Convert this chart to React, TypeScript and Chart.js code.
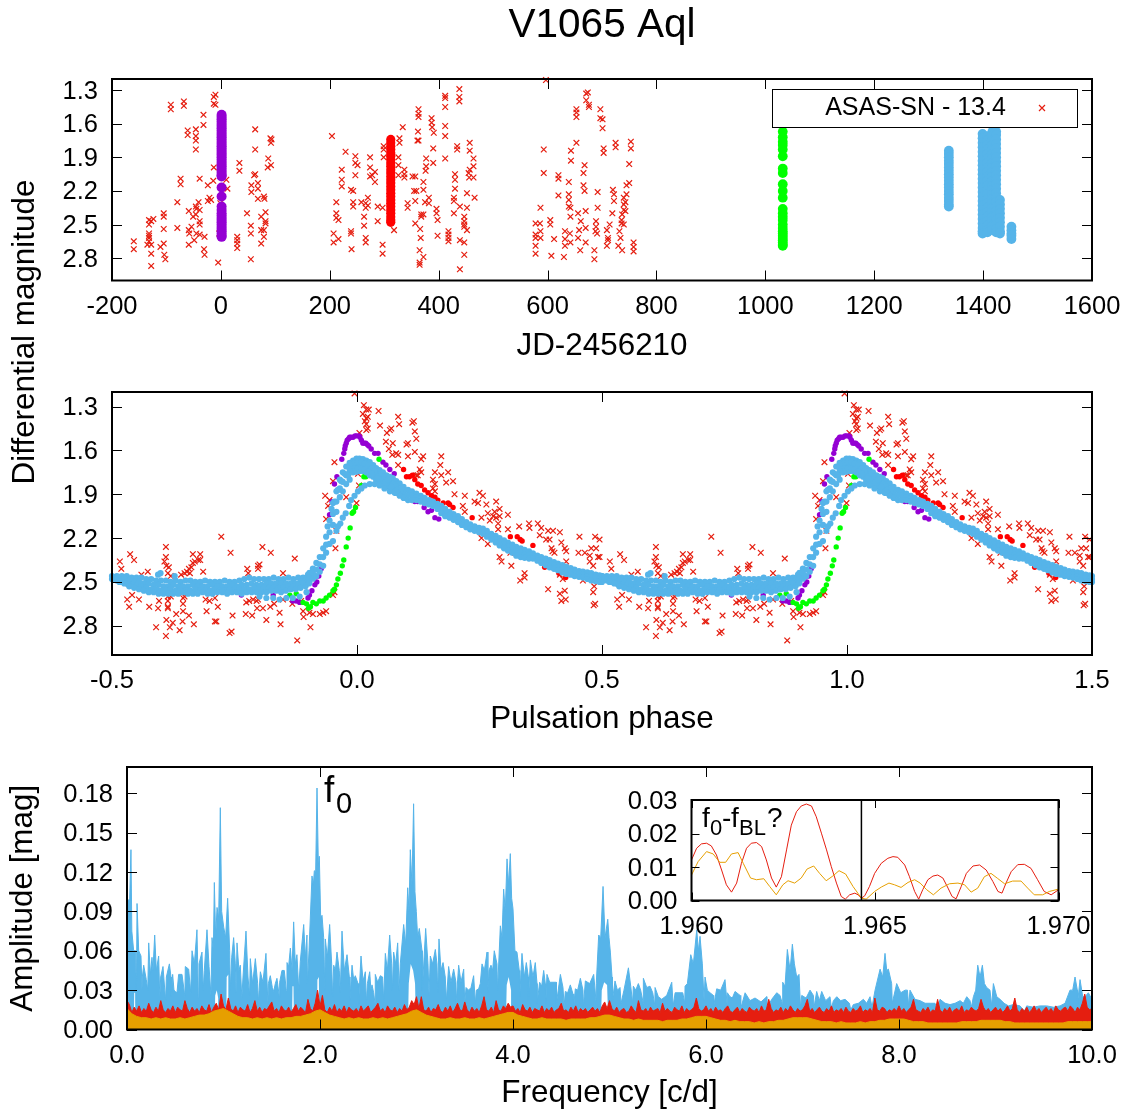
import React, { useEffect, useRef } from "react";
import { Chart, registerables } from "chart.js";

Chart.register(...registerables);

const TITLE = "V1065 Aql";
const FONT = "'Liberation Sans', Arial, sans-serif";

const jdTicks = [-200, 0, 200, 400, 600, 800, 1000, 1200, 1400, 1600];
const magTicks = [1.3, 1.6, 1.9, 2.2, 2.5, 2.8];
const phaseTicks = [-0.5, 0, 0.5, 1, 1.5];
const freqTicks = [0, 2, 4, 6, 8, 10];
const ampTicks = [0, 0.03, 0.06, 0.09, 0.12, 0.15, 0.18];
const insetFreqTicks = [1.96, 1.965, 1.97];
const insetAmpTicks = [0, 0.01, 0.02, 0.03];
const F0_MINUS_FBL = 1.96463;

// ASAS-SN light curve: [JD-2456210, magnitude]
const asasSeason1: number[][] = [[-160,2.65],[-160,2.72],[-132,2.46],[-124,2.45],[-128,2.47],[-132,2.5],[-132,2.58],[-132,2.6],[-132,2.62],[-132,2.65],[-128,2.68],[-135,2.68],[-128,2.76],[-128,2.87],[-105,2.4],[-105,2.43],[-105,2.54],[-105,2.67],[-111,2.7],[-104,2.77],[-102,2.81],[-80,2.3],[-80,2.53],[-92,1.43],[-92,1.47],[-68,1.4],[-68,1.44],[-61,1.66],[-61,1.7],[-46,1.65],[-46,1.71],[-46,1.75],[-46,1.83],[-32,1.52],[-32,1.61],[-13,1.36],[-10,1.34],[-13,1.42],[-10,1.43],[-74,2.09],[-74,2.14],[-39,2.09],[-24,2.15],[-13,1.99],[-14,2.11],[10,2.1],[12,2.18],[-41,2.3],[-21,2.26],[-24,2.29],[-18,2.28],[-46,2.34],[-45,2.36],[-39,2.37],[-59,2.38],[-51,2.43],[-46,2.41],[-39,2.47],[-39,2.5],[-54,2.52],[-59,2.55],[-58,2.58],[-45,2.58],[-30,2.61],[-39,2.59],[-49,2.64],[-59,2.68],[-31,2.72],[-30,2.77],[-5,2.84],[-3,2.58],[-1,2.31],[30,2.61],[30,2.64],[30,2.67],[30,2.71],[34,1.95],[34,2.02],[63,1.65],[63,1.83],[63,2.05],[61,2.06],[56,2.15],[68,2.13],[68,2.18],[56,2.21],[68,2.27],[79,2.25],[80,2.27],[48,2.4],[82,2.39],[74,2.43],[82,2.47],[82,2.49],[55,2.51],[55,2.58],[74,2.55],[79,2.55],[79,2.61],[74,2.67],[55,2.81],[91,1.73],[93,1.74],[92,1.77],[87,1.91],[86,1.99],[92,1.97]];
const asasSeason2: number[][] = [[204,1.71],[229,1.85],[247,1.89],[247,1.95],[251,1.97],[247,2.06],[274,1.9],[222,2.01],[222,2.1],[222,2.16],[239,2.19],[243,2.2],[274,1.99],[283,2.03],[278,2.06],[274,2.07],[283,2.12],[212,2.3],[243,2.3],[243,2.34],[258,2.3],[266,2.31],[266,2.35],[270,2.26],[270,2.33],[212,2.4],[212,2.44],[216,2.46],[263,2.43],[263,2.51],[288,2.34],[297,2.35],[288,2.47],[207,2.58],[207,2.66],[216,2.63],[239,2.56],[239,2.58],[266,2.62],[266,2.66],[240,2.72],[297,2.68],[297,2.76],[318,2.55],[328,1.73],[328,1.77],[326,1.9],[326,1.97],[326,2.06],[299,1.8],[299,1.83],[299,1.9],[334,1.63],[337,2.01],[337,2.05],[337,2.08],[352,2.07],[357,2.07],[355,2.2],[359,2.2],[357,2.29],[343,2.31],[343,2.35],[368,2.41],[372,2.41],[368,2.43],[357,2.49],[366,2.54],[367,2.62],[365,2.73],[372,2.79],[365,2.84],[365,2.86],[363,1.47],[363,1.51],[363,1.54],[362,1.67],[361,1.75],[363,1.75],[387,1.55],[387,1.59],[388,1.63],[391,1.68],[390,1.82],[377,1.91],[390,1.95],[377,1.98],[376,2.02],[372,2.12],[372,2.19],[382,2.26],[382,2.31],[375,2.3],[396,2.36],[396,2.4],[398,2.46],[412,1.35],[412,1.37],[412,1.45],[412,1.62],[412,1.71],[412,1.91],[438,1.29],[438,1.36],[438,1.4],[434,1.8],[434,1.83],[457,1.77],[457,1.84],[464,1.91],[464,1.98],[457,2.01],[455,2.04],[456,2.08],[464,2.08],[430,2.05],[430,2.1],[430,2.18],[428,2.26],[428,2.29],[452,2.22],[466,2.26],[439,2.34],[452,2.35],[428,2.4],[447,2.43],[447,2.47],[447,2.5],[447,2.52],[452,2.55],[398,2.6],[418,2.56],[418,2.59],[418,2.62],[418,2.65],[439,2.64],[447,2.66],[447,2.77],[439,2.9]];
const asasSeason3: number[][] = [[597,1.21],[593,1.83],[593,2.04],[587,2.35],[578,2.49],[586,2.49],[578,2.59],[587,2.56],[578,2.62],[587,2.62],[578,2.69],[578,2.76],[605,2.46],[605,2.5],[607,2.78],[620,2.06],[620,2.09],[620,2.24],[612,2.63],[632,2.56],[632,2.63],[632,2.69],[630,2.79],[639,2.12],[643,1.84],[643,1.93],[653,1.77],[639,2.23],[639,2.28],[639,2.34],[642,2.35],[642,2.43],[656,2.4],[658,2.55],[656,2.62],[660,2.73],[641,2.58],[642,2.66],[653,1.47],[653,1.5],[653,1.54],[666,2.04],[668,1.97],[666,2.15],[668,2.2],[661,2.47],[670,2.38],[670,2.53],[670,2.66],[671,1.33],[674,1.32],[671,1.39],[676,1.43],[676,1.45],[697,1.47],[697,1.55],[701,1.56],[701,1.64],[703,1.82],[703,1.86],[692,2.21],[692,2.35],[686,2.81],[686,2.73],[689,2.47],[689,2.52],[688,2.56],[691,2.58],[720,2.19],[722,2.23],[722,2.29],[725,1.77],[725,1.81],[753,1.76],[753,1.82],[750,1.96],[750,2.13],[745,2.15],[745,2.23],[743,2.3],[740,2.26],[740,2.32],[740,2.37],[743,2.38],[737,2.41],[736,2.46],[736,2.49],[740,2.5],[719,2.4],[714,2.5],[709,2.55],[711,2.62],[711,2.64],[709,2.69],[732,2.56],[734,2.62],[730,2.69],[737,2.73],[758,2.66],[758,2.7],[758,2.74]];

// Nightly ground-based runs: JD of the run, magnitudes
const purpleRunJd = 1.3;
const purpleRunMags = [1.52,1.54,1.56,1.58,1.6,1.62,1.64,1.66,1.68,1.7,1.72,1.74,1.76,1.78,1.8,1.82,1.84,1.86,1.88,1.9,1.92,1.94,1.96,1.98,2.0,2.02,2.04,2.06,2.07,2.17,2.25,2.34,2.37,2.4,2.42,2.44,2.46,2.48,2.5,2.52,2.54,2.56,2.58,2.6,2.61];
const redRunJd = 312;
const redRunMags = [1.74,1.77,1.8,1.83,1.86,1.89,1.92,1.95,1.98,2.01,2.04,2.07,2.1,2.13,2.16,2.19,2.22,2.25,2.28,2.31,2.34,2.37,2.4,2.43,2.46,2.48];
const greenRunJd = 1032;
const greenRunMags = [1.67,1.72,1.76,1.79,1.83,1.89,2.0,2.04,2.14,2.2,2.26,2.36,2.4,2.43,2.46,2.5,2.53,2.56,2.58,2.6,2.62,2.64,2.66,2.68,2.69];
const blueRunA = { jd: 1337, mags: [1.84,1.87,1.9,1.93,1.96,1.99,2.02,2.05,2.08,2.11,2.14,2.17,2.2,2.23,2.26,2.29,2.32,2.34] };
const blueRunB = { jd: 1399, mags: [1.69,1.73,1.77,1.81,1.85,1.89,1.93,1.97,2.01,2.05,2.09,2.13,2.17,2.21,2.25,2.29,2.33,2.37,2.41,2.45,2.49,2.53,2.56,2.58] };
const blueRunC = { jd: 1408, mags: [1.71,1.75,1.79,1.83,1.87,1.91,1.95,1.99,2.03,2.07,2.11,2.15,2.19,2.23,2.27,2.31,2.35,2.39,2.43,2.47,2.51,2.55,2.57] };
const blueRunD = { jd: 1417, mags: [1.67,1.71,1.75,1.79,1.83,1.87,1.91,1.95,1.99,2.03,2.07,2.11,2.15,2.19,2.23,2.27,2.31,2.35,2.39,2.43,2.47,2.51,2.55] };
const blueRunE = { jd: 1424, mags: [1.67,1.7,1.74,1.78,1.82,1.86,1.9,1.94,1.98,2.02,2.06,2.1,2.14,2.18,2.22,2.26,2.3,2.34,2.38,2.42,2.46,2.5,2.54,2.57] };
const blueRunF = { jd: 1431, mags: [2.28,2.32,2.36,2.4,2.44,2.48,2.52,2.56,2.58] };
const blueRunG = { jd: 1452, mags: [2.52,2.55,2.58,2.6,2.63] };

// Folded light curve, one cycle from -0.5 to 0.5: [phase, magnitude]
const asasFolded: number[][] = [[-0.484,2.36],[-0.481,2.41],[-0.463,2.31],[-0.455,2.35],[-0.44,2.45],[-0.427,2.43],[-0.469,2.62],[-0.459,2.59],[-0.465,2.67],[-0.445,2.62],[-0.424,2.67],[-0.41,2.81],[-0.406,2.68],[-0.404,2.63],[-0.39,2.26],[-0.39,2.33],[-0.393,2.36],[-0.389,2.39],[-0.384,2.4],[-0.386,2.44],[-0.38,2.46],[-0.386,2.6],[-0.38,2.6],[-0.386,2.63],[-0.386,2.67],[-0.386,2.68],[-0.389,2.76],[-0.376,2.78],[-0.382,2.81],[-0.369,2.72],[-0.39,2.87],[-0.356,2.77],[-0.362,2.83],[-0.333,2.79],[-0.355,2.7],[-0.355,2.65],[-0.355,2.61],[-0.352,2.6],[-0.343,2.73],[-0.359,2.45],[-0.347,2.43],[-0.343,2.41],[-0.338,2.4],[-0.335,2.37],[-0.331,2.36],[-0.324,2.35],[-0.32,2.35],[-0.335,2.31],[-0.32,2.31],[-0.314,2.43],[-0.341,2.44],[-0.352,2.44],[-0.309,2.62],[-0.301,2.63],[-0.29,2.61],[-0.307,2.7],[-0.284,2.67],[-0.29,2.77],[-0.287,2.77],[-0.277,2.19],[-0.258,2.3],[-0.256,2.84],[-0.26,2.85],[-0.254,2.73],[-0.224,2.41],[-0.222,2.44],[-0.202,2.39],[-0.199,2.38],[-0.202,2.41],[-0.193,2.26],[-0.176,2.3],[-0.151,2.44],[-0.127,2.34],[-0.226,2.64],[-0.22,2.63],[-0.212,2.62],[-0.205,2.63],[-0.202,2.62],[-0.227,2.72],[-0.214,2.73],[-0.204,2.68],[-0.192,2.68],[-0.185,2.76],[-0.177,2.67],[-0.169,2.65],[-0.158,2.71],[-0.156,2.79],[-0.151,2.62],[-0.132,2.65],[-0.122,2.9],[-0.11,2.7],[-0.109,2.74],[-0.097,2.71],[-0.095,2.81],[-0.114,2.63],[-0.076,2.72],[-0.069,2.71],[-0.063,2.7],[-0.09,2.72],[-0.049,2.59],[-0.046,2.57],[-0.044,2.27],[-0.046,1.68],[-0.049,1.81],[-0.065,1.91],[-0.059,1.98],[-0.056,1.94],[-0.063,2.07],[-0.042,2.15],[-0.022,1.92],[0.002,1.76],[-0.001,1.96],[0.005,1.48],[0.004,1.84],[-0.005,1.21],[0.014,1.29],[0.012,1.35],[0.019,1.32],[0.024,1.32],[0.022,1.37],[0.019,1.38],[0.016,1.4],[0.019,1.42],[0.022,1.45],[0.019,1.46],[0.044,1.33],[0.047,1.43],[0.084,1.37],[0.086,1.42],[0.113,1.41],[0.116,1.4],[0.118,1.47],[0.067,1.46],[0.061,1.48],[0.07,1.45],[0.059,1.54],[0.073,1.55],[0.065,1.59],[0.072,1.63],[0.08,1.62],[0.084,1.63],[0.104,1.55],[0.101,1.56],[0.121,1.52],[0.118,1.61],[0.104,1.64],[0.084,1.7],[0.135,1.64],[0.131,1.66],[0.128,1.73],[0.131,1.75],[0.124,1.77],[0.121,1.77],[0.172,1.64],[0.17,1.7],[0.159,1.75],[0.155,1.8],[0.159,1.83],[0.182,1.82],[0.172,1.77],[0.186,1.75],[0.196,1.81],[0.155,1.86],[0.159,1.88],[0.199,1.9],[0.22,1.91],[0.216,1.98],[0.22,2.02],[0.24,1.95],[0.247,1.96],[0.25,1.89],[0.257,1.91],[0.254,2.06],[0.264,1.97],[0.267,2.03],[0.284,1.95],[0.291,2.0],[0.281,2.02],[0.278,2.05],[0.284,2.06],[0.291,2.05],[0.288,2.1],[0.271,2.08],[0.308,2.04],[0.308,2.14],[0.288,2.14],[0.254,2.2],[0.267,2.24],[0.291,2.33],[0.295,2.36],[0.315,2.39],[0.313,2.3],[0.331,2.12],[0.351,2.1],[0.352,2.13],[0.369,2.1],[0.376,2.13],[0.373,2.18],[0.39,2.15],[0.4,2.15],[0.414,2.16],[0.386,2.21],[0.393,2.21],[0.417,2.23],[0.397,2.27],[0.399,2.29],[0.424,2.27],[0.427,2.29],[0.403,2.3],[0.427,2.36],[0.454,2.19],[0.486,2.19],[0.495,2.21],[0.478,2.27],[0.488,2.27],[0.452,2.3],[0.465,2.3],[0.475,2.32],[0.492,2.33],[0.475,2.36],[0.482,2.39],[0.342,2.44],[0.342,2.47],[0.333,2.49],[0.39,2.55],[0.414,2.58],[0.424,2.56],[0.417,2.63],[0.426,2.62],[0.403,2.4],[0.414,2.45],[0.42,2.48],[0.461,2.49],[0.484,2.53],[0.482,2.57],[0.486,2.65],[0.483,2.66],[0.495,2.33]];
const purpleFolded: number[][] = [[-0.236,2.59],[-0.171,2.59],[-0.144,2.61],[-0.131,2.63],[-0.124,2.63],[-0.117,2.64],[-0.1,2.61],[-0.097,2.59],[-0.092,2.56],[-0.086,2.52],[-0.082,2.5],[-0.078,2.46],[-0.073,2.41],[-0.056,2.04],[-0.051,1.95],[-0.046,1.83],[-0.041,1.78],[-0.031,1.66],[-0.027,1.62],[-0.025,1.59],[-0.024,1.57],[-0.022,1.55],[-0.02,1.53],[-0.017,1.52],[-0.015,1.51],[-0.012,1.51],[-0.008,1.51],[-0.004,1.5],[-0.001,1.5],[0.004,1.5],[0.006,1.51],[0.009,1.53],[0.012,1.55],[0.015,1.55],[0.018,1.55],[0.021,1.56],[0.024,1.57],[0.029,1.59],[0.036,1.62],[0.043,1.62],[0.053,1.68],[0.059,1.7],[0.067,1.73],[0.076,1.76],[0.118,1.95],[0.124,1.95],[0.137,1.99],[0.145,2.02],[0.152,2.01],[0.159,2.06],[0.167,2.07]];
const redFolded: number[][] = [[0.095,1.73],[0.101,1.78],[0.107,1.78],[0.113,1.77],[0.118,1.8],[0.124,1.83],[0.131,1.84],[0.138,1.87],[0.145,1.89],[0.152,1.91],[0.159,1.92],[0.165,1.94],[0.176,1.96],[0.186,1.96],[0.189,1.97],[0.196,1.99],[0.235,2.06],[0.313,2.19],[0.327,2.19],[0.333,2.21],[0.337,2.22],[0.359,2.25],[0.383,2.4],[0.412,2.44],[0.415,2.43],[0.426,2.47],[0.442,2.45]];
const greenFolded: number[][] = [[-0.137,2.59],[-0.124,2.58],[-0.11,2.64],[-0.103,2.65],[-0.099,2.68],[-0.095,2.67],[-0.09,2.64],[-0.083,2.65],[-0.076,2.63],[-0.069,2.63],[-0.063,2.61],[-0.056,2.59],[-0.049,2.56],[-0.046,2.55],[-0.042,2.52],[-0.039,2.48],[-0.034,2.44],[-0.03,2.39],[-0.027,2.35],[-0.022,2.26],[-0.018,2.2],[-0.014,2.13],[-0.01,2.03],[-0.007,2.02],[-0.003,1.99],[0.009,1.84],[0.014,1.78],[0.018,1.78],[0.027,1.7],[0.045,1.66]];

// Blue folded curve: flat part of the cycle, four rows through the band
const blueFlatPhaseA = [-0.5,-0.49,-0.48,-0.47,-0.46,-0.45,-0.44,-0.43,-0.42,-0.41,-0.4,-0.39,-0.38,-0.37,-0.36,-0.35,-0.34,-0.33,-0.32,-0.31,-0.3,-0.29,-0.28,-0.27,-0.26,-0.25,-0.24,-0.23,-0.22,-0.21,-0.2,-0.19,-0.18,-0.17,-0.16,-0.15,-0.14,-0.13,-0.12,-0.11,-0.1];
const blueFlatPhaseB = [-0.495,-0.485,-0.475,-0.465,-0.455,-0.445,-0.435,-0.425,-0.415,-0.405,-0.395,-0.385,-0.375,-0.365,-0.355,-0.345,-0.335,-0.325,-0.315,-0.305,-0.295,-0.285,-0.275,-0.265,-0.255,-0.245,-0.235,-0.225,-0.215,-0.205,-0.195,-0.185,-0.175,-0.165,-0.155,-0.145,-0.135,-0.125,-0.115,-0.105,-0.098];
const blueFlatTop = [2.46,2.46,2.46,2.46,2.47,2.47,2.47,2.48,2.48,2.49,2.49,2.49,2.5,2.49,2.5,2.49,2.49,2.5,2.5,2.49,2.5,2.5,2.5,2.49,2.5,2.5,2.49,2.48,2.47,2.48,2.48,2.48,2.48,2.47,2.48,2.48,2.47,2.48,2.47,2.47,2.45];
const blueFlatUpper = [2.47,2.48,2.48,2.49,2.5,2.5,2.51,2.51,2.52,2.52,2.53,2.53,2.52,2.53,2.53,2.53,2.52,2.53,2.53,2.53,2.52,2.53,2.53,2.53,2.52,2.53,2.52,2.52,2.51,2.52,2.52,2.51,2.51,2.51,2.51,2.51,2.51,2.51,2.5,2.49,2.47];
const blueFlatLower = [2.48,2.49,2.5,2.51,2.52,2.53,2.53,2.54,2.55,2.55,2.56,2.56,2.55,2.56,2.56,2.56,2.56,2.55,2.56,2.56,2.56,2.55,2.56,2.56,2.55,2.55,2.55,2.55,2.55,2.54,2.55,2.54,2.54,2.54,2.54,2.54,2.53,2.53,2.52,2.51,2.49];
const blueFlatBottom = [2.48,2.5,2.51,2.53,2.54,2.55,2.56,2.57,2.57,2.58,2.58,2.58,2.58,2.58,2.57,2.58,2.58,2.58,2.57,2.58,2.58,2.57,2.57,2.58,2.57,2.57,2.58,2.57,2.57,2.57,2.57,2.57,2.56,2.56,2.57,2.56,2.55,2.55,2.54,2.53,2.51];
// Blue folded curve, rise and decline: [phase, top, middle, bottom]
const blueFallRows: number[][] = [[-0.097,2.437,2.47,2.506],[-0.09,2.408,2.44,2.478],[-0.083,2.37,2.415,2.46],[-0.076,2.33,2.38,2.43],[-0.069,2.27,2.33,2.39],[-0.063,2.19,2.245,2.3],[-0.056,2.08,2.16,2.24],[-0.049,1.96,2.035,2.11],[-0.042,1.88,1.95,2.02],[-0.035,1.8,1.86,1.92],[-0.029,1.75,1.815,1.88],[-0.022,1.71,1.77,1.83],[-0.015,1.685,1.74,1.8],[-0.008,1.67,1.71,1.75],[-0.001,1.655,1.7,1.745],[0.005,1.655,1.7,1.74],[0.012,1.66,1.7,1.74],[0.019,1.67,1.71,1.75],[0.026,1.68,1.725,1.77],[0.033,1.7,1.74,1.78],[0.039,1.72,1.76,1.8],[0.046,1.735,1.77,1.81],[0.053,1.75,1.79,1.825],[0.06,1.77,1.805,1.84],[0.067,1.78,1.82,1.855],[0.073,1.79,1.83,1.87],[0.08,1.81,1.85,1.89],[0.087,1.825,1.87,1.91],[0.095,1.85,1.89,1.925],[0.104,1.87,1.905,1.94],[0.112,1.88,1.91,1.94],[0.121,1.895,1.92,1.94],[0.13,1.91,1.93,1.95],[0.138,1.925,1.94,1.96],[0.147,1.94,1.955,1.97],[0.155,1.95,1.965,1.98],[0.164,1.965,1.98,2.0],[0.172,1.98,2.005,2.03],[0.18,2.0,2.025,2.05],[0.189,2.02,2.04,2.06],[0.197,2.035,2.055,2.075],[0.206,2.05,2.07,2.09],[0.214,2.07,2.09,2.11],[0.223,2.09,2.11,2.125],[0.231,2.105,2.12,2.14],[0.24,2.12,2.135,2.15],[0.249,2.13,2.145,2.16],[0.257,2.135,2.15,2.17],[0.265,2.15,2.17,2.19],[0.274,2.17,2.19,2.21],[0.283,2.185,2.21,2.23],[0.291,2.2,2.225,2.25],[0.3,2.215,2.24,2.27],[0.308,2.23,2.26,2.285],[0.317,2.245,2.27,2.3],[0.325,2.26,2.29,2.32],[0.334,2.27,2.3,2.33],[0.342,2.28,2.31,2.335],[0.351,2.29,2.315,2.34],[0.359,2.305,2.32,2.34],[0.368,2.32,2.34,2.355],[0.376,2.33,2.35,2.37],[0.385,2.34,2.36,2.385],[0.393,2.35,2.375,2.4],[0.402,2.365,2.39,2.41],[0.41,2.375,2.4,2.42],[0.419,2.385,2.41,2.435],[0.427,2.395,2.42,2.445],[0.436,2.405,2.43,2.45],[0.444,2.415,2.44,2.46],[0.453,2.425,2.445,2.465],[0.461,2.43,2.45,2.47],[0.47,2.435,2.46,2.48],[0.478,2.44,2.465,2.49],[0.487,2.45,2.47,2.495],[0.495,2.455,2.48,2.5],[0.5,2.46,2.48,2.5]];
// Blue folded curve, separate strands: lower hump, spurs and filler in the peak
const blueStrands: number[][] = [[-0.049,2.22],[-0.042,2.15],[-0.039,2.12],[-0.034,2.1],[-0.029,2.06],[-0.023,2.03],[-0.016,1.98],[-0.012,1.94],[-0.005,1.91],[0.002,1.88],[0.009,1.86],[0.016,1.84],[0.026,1.83],[0.036,1.83],[0.046,1.84],[0.056,1.86],[0.067,1.88],[0.077,1.89],[-0.199,2.6],[-0.185,2.61],[-0.171,2.61],[-0.158,2.62],[-0.144,2.61],[-0.131,2.61],[-0.117,2.6],[-0.103,2.57],[-0.406,2.45],[-0.401,2.44],[-0.372,2.46],[-0.06,2.12],[-0.052,2.0],[-0.046,1.95],[-0.039,1.87],[-0.032,1.81],[-0.025,1.76],[-0.018,1.71],[-0.012,1.69],[-0.004,1.68],[0.002,1.675],[0.009,1.68],[0.016,1.69],[0.023,1.7],[0.03,1.72],[0.036,1.74],[-0.018,1.77],[-0.011,1.73],[-0.004,1.72],[0.002,1.72],[0.009,1.72],[0.016,1.73],[0.023,1.745],[0.03,1.76],[0.043,1.79],[0.05,1.76],[0.057,1.82],[0.064,1.8],[0.07,1.85],[0.083,1.87],[0.091,1.86]];

// Amplitude spectra
const spectrumBlue: number[][] = [[0,0.1],[0.015,0.098],[0.028,0.1],[0.041,0.137],[0.05,0.075],[0.069,0.06],[0.09,0.06],[0.104,0.096],[0.121,0.06],[0.145,0.056],[0.159,0.04],[0.173,0.049],[0.2,0.038],[0.225,0.066],[0.242,0.042],[0.259,0.055],[0.269,0.045],[0.287,0.072],[0.304,0.045],[0.328,0.056],[0.349,0.04],[0.373,0.048],[0.408,0.04],[0.439,0.05],[0.456,0.04],[0.473,0.042],[0.487,0.03],[0.501,0.029],[0.518,0.028],[0.535,0.042],[0.57,0.042],[0.604,0.048],[0.639,0.046],[0.674,0.06],[0.698,0.05],[0.725,0.076],[0.746,0.05],[0.777,0.059],[0.801,0.045],[0.829,0.076],[0.85,0.048],[0.881,0.07],[0.895,0.06],[0.905,0.112],[0.919,0.07],[0.933,0.093],[0.95,0.085],[0.967,0.169],[0.981,0.09],[1.002,0.078],[1.022,0.07],[1.043,0.1],[1.064,0.06],[1.085,0.055],[1.105,0.07],[1.123,0.05],[1.14,0.066],[1.16,0.045],[1.174,0.049],[1.202,0.04],[1.233,0.075],[1.254,0.04],[1.278,0.054],[1.302,0.035],[1.33,0.054],[1.354,0.035],[1.382,0.044],[1.409,0.036],[1.44,0.058],[1.465,0.035],[1.485,0.041],[1.506,0.032],[1.52,0.029],[1.537,0.035],[1.554,0.039],[1.582,0.036],[1.606,0.045],[1.63,0.045],[1.658,0.051],[1.675,0.048],[1.693,0.062],[1.71,0.045],[1.727,0.082],[1.744,0.05],[1.761,0.057],[1.796,0.052],[1.831,0.08],[1.848,0.055],[1.865,0.072],[1.886,0.06],[1.917,0.117],[1.931,0.11],[1.941,0.121],[1.955,0.12],[1.969,0.184],[1.983,0.125],[1.993,0.132],[2.007,0.085],[2.021,0.087],[2.038,0.07],[2.055,0.069],[2.076,0.055],[2.1,0.08],[2.121,0.05],[2.142,0.049],[2.159,0.045],[2.176,0.059],[2.2,0.045],[2.228,0.075],[2.252,0.045],[2.28,0.057],[2.304,0.04],[2.332,0.049],[2.349,0.038],[2.366,0.041],[2.394,0.035],[2.425,0.056],[2.446,0.037],[2.47,0.044],[2.491,0.035],[2.515,0.044],[2.528,0.03],[2.539,0.034],[2.556,0.028],[2.573,0.042],[2.598,0.036],[2.625,0.041],[2.649,0.04],[2.677,0.058],[2.698,0.045],[2.722,0.072],[2.743,0.05],[2.763,0.059],[2.784,0.05],[2.805,0.066],[2.832,0.05],[2.867,0.08],[2.888,0.065],[2.909,0.108],[2.922,0.09],[2.936,0.137],[2.953,0.11],[2.97,0.172],[2.984,0.105],[2.998,0.09],[3.012,0.07],[3.029,0.077],[3.057,0.06],[3.095,0.077],[3.119,0.05],[3.143,0.056],[3.167,0.05],[3.195,0.061],[3.212,0.05],[3.233,0.069],[3.254,0.045],[3.275,0.051],[3.298,0.04],[3.333,0.048],[3.357,0.036],[3.385,0.046],[3.409,0.036],[3.437,0.049],[3.461,0.036],[3.489,0.046],[3.513,0.032],[3.54,0.03],[3.565,0.032],[3.592,0.041],[3.62,0.03],[3.644,0.031],[3.661,0.035],[3.679,0.05],[3.703,0.045],[3.731,0.059],[3.751,0.045],[3.772,0.049],[3.789,0.045],[3.806,0.06],[3.834,0.05],[3.869,0.079],[3.886,0.07],[3.903,0.107],[3.92,0.09],[3.938,0.13],[3.955,0.11],[3.972,0.134],[3.986,0.1],[4.0,0.092],[4.02,0.06],[4.041,0.059],[4.065,0.045],[4.093,0.058],[4.117,0.04],[4.138,0.051],[4.159,0.04],[4.18,0.053],[4.207,0.04],[4.231,0.051],[4.249,0.035],[4.276,0.036],[4.297,0.033],[4.318,0.045],[4.335,0.035],[4.352,0.042],[4.38,0.036],[4.404,0.036],[4.449,0.036],[4.491,0.042],[4.518,0.032],[4.542,0.029],[4.566,0.028],[4.594,0.034],[4.622,0.027],[4.646,0.031],[4.67,0.03],[4.698,0.039],[4.725,0.03],[4.75,0.037],[4.795,0.035],[4.836,0.042],[4.863,0.035],[4.888,0.072],[4.909,0.07],[4.933,0.109],[4.954,0.07],[4.982,0.084],[4.995,0.07],[5.009,0.059],[5.026,0.04],[5.057,0.037],[5.082,0.03],[5.109,0.032],[5.15,0.03],[5.196,0.047],[5.22,0.033],[5.247,0.033],[5.272,0.03],[5.299,0.035],[5.323,0.03],[5.351,0.039],[5.386,0.032],[5.42,0.033],[5.448,0.028],[5.472,0.032],[5.506,0.025],[5.541,0.023],[5.593,0.026],[5.645,0.036],[5.68,0.028],[5.731,0.028],[5.759,0.028],[5.783,0.033],[5.807,0.035],[5.842,0.057],[5.869,0.05],[5.904,0.076],[5.921,0.06],[5.938,0.071],[5.962,0.05],[5.99,0.04],[6.014,0.03],[6.042,0.028],[6.076,0.026],[6.111,0.031],[6.152,0.03],[6.197,0.038],[6.221,0.028],[6.249,0.025],[6.273,0.024],[6.301,0.029],[6.353,0.026],[6.405,0.028],[6.456,0.022],[6.508,0.024],[6.57,0.021],[6.629,0.025],[6.681,0.023],[6.733,0.028],[6.767,0.026],[6.795,0.036],[6.819,0.033],[6.843,0.061],[6.871,0.045],[6.895,0.065],[6.916,0.05],[6.94,0.04],[6.964,0.042],[6.992,0.026],[7.037,0.024],[7.078,0.03],[7.113,0.026],[7.147,0.029],[7.175,0.022],[7.199,0.029],[7.24,0.022],[7.285,0.025],[7.32,0.022],[7.355,0.025],[7.396,0.022],[7.441,0.023],[7.486,0.02],[7.527,0.019],[7.579,0.02],[7.631,0.023],[7.665,0.02],[7.7,0.025],[7.752,0.03],[7.804,0.046],[7.831,0.04],[7.855,0.058],[7.873,0.045],[7.89,0.046],[7.924,0.035],[7.976,0.035],[8.018,0.028],[8.063,0.03],[8.087,0.03],[8.114,0.03],[8.166,0.023],[8.218,0.022],[8.27,0.02],[8.322,0.02],[8.373,0.02],[8.425,0.023],[8.477,0.02],[8.529,0.019],[8.581,0.02],[8.633,0.022],[8.667,0.02],[8.702,0.025],[8.736,0.022],[8.771,0.025],[8.795,0.03],[8.816,0.049],[8.84,0.04],[8.864,0.049],[8.885,0.035],[8.909,0.032],[8.943,0.03],[8.978,0.035],[9.013,0.025],[9.047,0.023],[9.089,0.02],[9.134,0.018],[9.185,0.019],[9.254,0.018],[9.323,0.018],[9.392,0.017],[9.462,0.018],[9.531,0.018],[9.6,0.017],[9.669,0.018],[9.721,0.02],[9.772,0.03],[9.8,0.03],[9.824,0.04],[9.848,0.03],[9.876,0.038],[9.904,0.025],[9.928,0.025],[9.962,0.028],[10,0.023]];
// Narrow minima of the blue spectrum between its spikes
const spectrumBlueDips: number[][] = [[0.097,0.02],[0.155,0.03],[0.215,0.03],[0.34,0.024],[0.4,0.022],[0.46,0.025],[0.6,0.025],[0.66,0.028],[0.74,0.024],[0.79,0.03],[0.87,0.026],[1.07,0.03],[1.13,0.028],[1.19,0.024],[1.27,0.026],[1.36,0.02],[1.46,0.02],[1.58,0.024],[1.65,0.03],[1.78,0.03],[1.87,0.035],[2.05,0.03],[2.13,0.025],[2.21,0.028],[2.31,0.022],[2.4,0.02],[2.48,0.02],[2.57,0.02],[2.66,0.022],[2.75,0.03],[2.82,0.03],[3.06,0.03],[3.13,0.026],[3.22,0.028],[3.31,0.022],[3.41,0.02],[3.5,0.02],[3.61,0.02],[3.74,0.028],[3.84,0.03],[4.07,0.025],[4.16,0.022],[4.25,0.02],[4.34,0.02],[4.45,0.02],[4.53,0.018],[4.63,0.018],[4.73,0.018],[4.86,0.022],[5.03,0.022],[5.12,0.02],[5.24,0.02],[5.35,0.02],[5.47,0.018],[5.66,0.018],[5.78,0.02],[5.98,0.022],[6.08,0.018],[6.22,0.018],[6.36,0.016],[6.63,0.016],[6.79,0.02],[6.98,0.016],[7.12,0.017],[7.3,0.016],[7.5,0.015],[7.72,0.017],[7.93,0.02],[8.1,0.018],[8.4,0.015],[8.75,0.017],[8.96,0.018],[9.3,0.014],[9.85,0.02]];
// Lower limit of the blue spectrum: the window gaps beside the harmonics
const spectrumBlueFloor: number[][] = [[0,0],[0.07,0],[0.075,0.028],[0.085,0.028],[0.09,0],[0.908,0],[0.914,0.026],[0.93,0.03],[0.945,0.024],[0.95,0],[1.028,0],[1.033,0.04],[1.05,0.042],[1.056,0],[1.709,0],[1.715,0.033],[1.725,0.033],[1.731,0],[1.968,0],[1.973,0.038],[1.988,0.04],[1.994,0],[2.91,0],[2.92,0.035],[2.94,0.05],[2.965,0.045],[2.985,0.035],[2.995,0],[3.925,0],[3.935,0.034],[3.955,0.04],[3.98,0.03],[3.988,0],[4.91,0],[4.92,0.03],[4.945,0.036],[4.975,0.034],[4.99,0],[5.91,0],[5.915,0.018],[5.925,0.018],[5.93,0],[10,0]];
const SPECTRUM_RED_STEP = 0.025;
const spectrumRed = [
  .022,.019,.013,.017,.014,.018,.013,.016,.014,.020,.015,.013,.017,.014,.022,.015,.013,.016,.014,.018,.013,.017,.015,.014,.022,.016,.013,.017,.014,.016,.013,.018,.015,.014,.019,.013,.017,.020,.015,.027,
  .018,.015,.024,.016,.014,.018,.013,.017,.015,.014,.019,.013,.016,.022,.014,.017,.013,.016,.015,.018,.021,.014,.016,.013,.018,.015,.014,.017,.013,.016,.019,.014,.017,.015,.013,.023,.016,.014,.020,.030,
  .018,.026,.015,.013,.017,.014,.019,.013,.016,.014,.018,.013,.017,.015,.014,.016,.013,.018,.014,.016,.018,.013,.015,.017,.020,.014,.016,.013,.018,.015,.014,.017,.013,.016,.014,.019,.015,.017,.022,.019,
  .025,.016,.025,.015,.014,.017,.013,.016,.015,.019,.014,.013,.017,.014,.018,.013,.016,.020,.015,.014,.021,.015,.013,.017,.014,.016,.013,.018,.025,.015,.014,.017,.013,.022,.015,.014,.018,.016,.020,.017,
  .018,.014,.016,.013,.019,.015,.014,.017,.013,.016,.015,.014,.018,.013,.016,.014,.017,.013,.015,.016,.020,.014,.015,.013,.017,.014,.018,.013,.016,.014,.016,.013,.015,.017,.014,.016,.013,.018,.021,.016,
  .022,.016,.014,.017,.013,.015,.016,.013,.014,.018,.015,.013,.022,.015,.014,.016,.013,.017,.014,.015,.016,.013,.020,.014,.016,.014,.013,.017,.015,.014,.018,.013,.016,.014,.015,.017,.024,.016,.014,.015,
  .018,.014,.016,.013,.017,.014,.015,.013,.016,.018,.014,.013,.015,.017,.013,.016,.014,.013,.017,.015,.014,.016,.013,.018,.014,.015,.023,.016,.013,.015,.014,.017,.013,.016,.014,.018,.015,.013,.016,.014,
  .015,.018,.023,.014,.016,.013,.015,.017,.014,.013,.016,.014,.018,.013,.015,.014,.016,.013,.017,.014,.013,.016,.014,.015,.018,.013,.015,.014,.016,.013,.024,.015,.014,.017,.016,.013,.015,.014,.016,.014,
  .018,.014,.016,.013,.015,.017,.023,.015,.014,.013,.016,.014,.017,.013,.015,.014,.023,.015,.013,.016,.014,.017,.013,.015,.016,.014,.018,.013,.015,.014,.017,.015,.014,.016,.023,.017,.014,.016,.013,.015,
  .017,.014,.016,.013,.015,.018,.014,.016,.024,.015,.013,.016,.014,.017,.013,.015,.018,.014,.016,.013,.015,.017,.014,.016,.013,.018,.015,.014,.016,.017,.014,.018,.016,.013,.017,.015,.020,.027,.017,.015,
  .016,
];
const SPECTRUM_ORANGE_STEP = 0.05;
const spectrumOrange = [
  .016,.012,.010,.009,.009,.008,.009,.008,.009,.008,.008,.009,.008,.009,.010,.011,.011,.012,.014,.015,
  .016,.014,.012,.010,.009,.009,.008,.009,.008,.009,.008,.009,.008,.009,.009,.010,.010,.011,.012,.014,
  .015,.013,.011,.010,.009,.008,.009,.008,.009,.008,.008,.009,.008,.009,.008,.009,.010,.011,.012,.014,
  .015,.013,.011,.010,.009,.008,.008,.009,.008,.008,.009,.008,.008,.009,.008,.009,.010,.011,.012,.013,
  .013,.011,.010,.009,.008,.008,.009,.008,.008,.008,.008,.007,.008,.008,.008,.008,.009,.009,.010,.011,
  .011,.010,.009,.008,.008,.007,.008,.007,.007,.007,.007,.006,.007,.007,.007,.008,.008,.009,.010,.010,
  .010,.009,.008,.007,.007,.006,.007,.006,.006,.006,.005,.006,.005,.006,.006,.007,.007,.008,.009,.009,
  .009,.009,.008,.007,.006,.006,.006,.005,.006,.005,.005,.005,.006,.005,.006,.006,.007,.007,.008,.008,
  .008,.008,.007,.006,.006,.006,.005,.005,.005,.005,.005,.005,.005,.006,.006,.006,.006,.007,.007,.007,
  .007,.007,.006,.006,.005,.005,.005,.005,.005,.005,.005,.005,.005,.005,.005,.006,.006,.006,.006,.006,
  .006,
];
const insetRed: number[][] = [[1.96,0.0121],[1.96014,0.0156],[1.96027,0.0169],[1.96041,0.0171],[1.96054,0.0163],[1.96068,0.0136],[1.96082,0.0091],[1.96095,0.0047],[1.96109,0.0025],[1.96123,0.0052],[1.96136,0.0111],[1.9615,0.0156],[1.96163,0.0171],[1.96177,0.0173],[1.96191,0.0161],[1.96204,0.0121],[1.96218,0.0067],[1.96231,0.004],[1.96245,0.0071],[1.96259,0.0151],[1.96272,0.0225],[1.96286,0.0265],[1.96299,0.0282],[1.96313,0.0288],[1.96327,0.0282],[1.9634,0.025],[1.96354,0.0201],[1.96368,0.0151],[1.96381,0.0101],[1.96395,0.0052],[1.96408,0.0012],[1.96419,0.0004],[1.96431,0.0017],[1.96445,0.0022],[1.96454,0.0017],[1.96463,0.0007],[1.96472,0.0014],[1.96485,0.0042],[1.96499,0.0081],[1.96517,0.0111],[1.96535,0.0126],[1.96549,0.0131],[1.96562,0.0129],[1.96581,0.0106],[1.96594,0.0071],[1.96608,0.0027],[1.96619,0.0004],[1.9663,0.0032],[1.96644,0.0062],[1.96658,0.0073],[1.96671,0.0076],[1.96685,0.0067],[1.96699,0.0037],[1.9671,0.0012],[1.96721,0.0005],[1.96735,0.0042],[1.96749,0.0081],[1.96767,0.0103],[1.96785,0.0106],[1.96803,0.0091],[1.96821,0.0057],[1.96835,0.0027],[1.96846,0.0022],[1.96857,0.0052],[1.96871,0.0086],[1.96889,0.0107],[1.96907,0.0108],[1.96925,0.0096],[1.96943,0.0062],[1.96961,0.0027],[1.9698,0.0017],[1.97,0.0032]];
const insetOrange: number[][] = [[1.96,0.0076],[1.96018,0.0116],[1.96041,0.0146],[1.96059,0.0139],[1.96077,0.0114],[1.96093,0.0114],[1.96109,0.0139],[1.96127,0.0143],[1.96141,0.0111],[1.96161,0.0067],[1.96177,0.0062],[1.96197,0.0065],[1.96213,0.0042],[1.96231,0.0017],[1.96249,0.0047],[1.96263,0.0059],[1.96281,0.0052],[1.96299,0.0067],[1.96315,0.0094],[1.96333,0.0103],[1.96349,0.0081],[1.96367,0.0059],[1.96385,0.0073],[1.96402,0.0089],[1.9642,0.0079],[1.9644,0.0042],[1.96463,0.0007],[1.96476,0.0004],[1.96499,0.0027],[1.96517,0.004],[1.96538,0.0052],[1.96553,0.0047],[1.96571,0.0039],[1.9659,0.0054],[1.96608,0.0062],[1.96623,0.0052],[1.96641,0.0032],[1.96659,0.0017],[1.9668,0.0037],[1.96703,0.005],[1.96726,0.0052],[1.96744,0.0047],[1.96762,0.0025],[1.9678,0.0037],[1.96798,0.0071],[1.96816,0.0081],[1.96834,0.0066],[1.96853,0.005],[1.96875,0.0058],[1.96898,0.0058],[1.96916,0.0037],[1.96934,0.0017],[1.96957,0.0017],[1.96975,0.0027],[1.97,0.0034]];

const PURPLE = "#9400d3", RED = "#ff0000", GREEN = "#00ff00", BLUE = "#56b4e9", ORANGE = "#e69f00", CROSS = "#e51e10";

const xy = (rows: number[][], shift = 0) => rows.map((r) => ({ x: r[0] + shift, y: r[1] }));
const run = (jd: number, mags: number[]) => mags.map((m) => ({ x: jd, y: m }));
const zip = (xs: number[], ys: number[]) => xs.map((x, i) => ({ x, y: ys[i] }));
const twoCycles = (rows: { x: number; y: number }[]) => [...rows, ...rows.map((p) => ({ x: p.x + 1, y: p.y }))];

const blueFolded = [
  ...zip(blueFlatPhaseA, blueFlatTop),
  ...zip(blueFlatPhaseB, blueFlatUpper),
  ...zip(blueFlatPhaseA, blueFlatLower),
  ...zip(blueFlatPhaseB, blueFlatBottom),
  ...blueFallRows.map((r) => ({ x: r[0], y: r[1] })),
  ...blueFallRows.map((r) => ({ x: r[0], y: r[2] })),
  ...blueFallRows.map((r) => ({ x: r[0], y: r[3] })),
  ...xy(blueStrands),
];
const spectrumBlueAll = [...spectrumBlue, ...spectrumBlueDips].sort((a, b) => a[0] - b[0]);

const dots = (label: string, data: any[], color: string, radius: number) => ({
  label, data, showLine: false, pointRadius: radius, pointBorderWidth: 0,
  pointBackgroundColor: color, pointBorderColor: color, clip: false as any,
});
const crosses = (label: string, data: any[]) => ({
  label, data, showLine: false, pointStyle: "crossRot", pointRadius: 4,
  pointBorderWidth: 1.2, pointBorderColor: CROSS, pointBackgroundColor: CROSS, clip: false as any,
});
const curve = (label: string, data: any[], color: string, fill: any, width = 1) => ({
  label, data, borderColor: color, backgroundColor: color, borderWidth: width,
  fill, pointRadius: 0, tension: 0,
});

const framePlugin = (tickLen: number, frameWidth: number) => ({
  id: "frame",
  afterDatasetsDraw(chart: any) {
    const { ctx, chartArea: a, scales } = chart;
    ctx.save();
    ctx.strokeStyle = "#000";
    ctx.lineWidth = 1;
    ctx.beginPath();
    scales.x.ticks.forEach((t: any) => {
      const p = Math.round(scales.x.getPixelForValue(t.value)) + 0.5;
      ctx.moveTo(p, a.top); ctx.lineTo(p, a.top + tickLen);
      ctx.moveTo(p, a.bottom); ctx.lineTo(p, a.bottom - tickLen);
    });
    scales.y.ticks.forEach((t: any) => {
      const p = Math.round(scales.y.getPixelForValue(t.value)) + 0.5;
      ctx.moveTo(a.left, p); ctx.lineTo(a.left + tickLen, p);
      ctx.moveTo(a.right, p); ctx.lineTo(a.right - tickLen, p);
    });
    ctx.stroke();
    ctx.lineWidth = frameWidth;
    ctx.strokeRect(a.left, a.top, a.right - a.left, a.bottom - a.top);
    ctx.restore();
  },
});

const TICK_SIZE = 25.5;
const LABEL_SIZE = 31.4;

type Box = { left: number; right: number; top: number; bottom: number };
const axes = (
  box: Box,
  x: { min: number; max: number; ticks: number[]; fmt: (v: number) => string; title?: string; height: number; pad: number },
  y: { min: number; max: number; ticks: number[]; fmt: (v: number) => string; reverse?: boolean; title?: string; width: number; pad: number },
) => ({
  layout: {
    padding: {
      left: box.left - y.width,
      right: 1128 - box.right,
      top: box.top,
      bottom: 1112 - box.bottom - x.height,
    },
  },
  scales: {
    x: {
      type: "linear", min: x.min, max: x.max,
      afterBuildTicks: (s: any) => { s.ticks = x.ticks.map((value) => ({ value })); },
      afterFit: (s: any) => { s.height = x.height; s.paddingLeft = 0; s.paddingRight = 0; },
      grid: { display: false, drawTicks: false },
      border: { display: false },
      ticks: { callback: (v: any) => x.fmt(Number(v)), padding: x.pad, maxRotation: 0, autoSkip: false, color: "#000", font: { size: TICK_SIZE, family: FONT } },
      title: { display: !!x.title, text: x.title, color: "#000", padding: 0, font: { size: LABEL_SIZE, family: FONT } },
    },
    y: {
      type: "linear", min: y.min, max: y.max, reverse: !!y.reverse,
      afterBuildTicks: (s: any) => { s.ticks = y.ticks.map((value) => ({ value })); },
      afterFit: (s: any) => { s.width = y.width; s.paddingTop = 0; s.paddingBottom = 0; },
      grid: { display: false, drawTicks: false },
      border: { display: false },
      ticks: { callback: (v: any) => y.fmt(Number(v)), padding: y.pad, autoSkip: false, labelOffset: 1.5, color: "#000", font: { size: TICK_SIZE, family: FONT } },
      title: { display: !!y.title, text: y.title, color: "#000", padding: 0, font: { size: LABEL_SIZE, family: FONT } },
    },
  },
});

const base = { responsive: false, animation: false as const, events: [] as any[] };
const noChrome = { legend: { display: false }, tooltip: { enabled: false } };

const runsTextPlugin = {
  id: "pageText",
  afterDraw(chart: any) {
    const { ctx } = chart;
    ctx.save();
    ctx.fillStyle = "#000";
    ctx.textAlign = "center";
    ctx.textBaseline = "middle";
    ctx.font = `40.5px ${FONT}`;
    ctx.fillText(TITLE, 602, 26);
    ctx.translate(25, 332);
    ctx.rotate(-Math.PI / 2);
    ctx.font = `${LABEL_SIZE}px ${FONT}`;
    ctx.fillText("Differential magnitude", 0, 0);
    ctx.restore();
  },
};
const legendPlugin = {
  id: "asasLegend",
  afterDatasetsDraw(chart: any) {
    const { ctx } = chart;
    ctx.save();
    ctx.fillStyle = "#fff";
    ctx.fillRect(772, 89, 305, 38);
    ctx.strokeStyle = "#000";
    ctx.lineWidth = 1;
    ctx.strokeRect(772.5, 89.5, 305, 38);
    ctx.fillStyle = "#000";
    ctx.font = `25px ${FONT}`;
    ctx.textAlign = "center";
    ctx.textBaseline = "middle";
    ctx.fillText("ASAS-SN - 13.4", 915.5, 108);
    ctx.strokeStyle = CROSS;
    ctx.lineWidth = 1.2;
    ctx.beginPath();
    ctx.moveTo(1039, 105); ctx.lineTo(1045, 111);
    ctx.moveTo(1039, 111); ctx.lineTo(1045, 105);
    ctx.stroke();
    ctx.restore();
  },
};
const sub = (ctx: any, parts: [string, number, number, number][]) => {
  parts.forEach(([t, x, y, size]) => {
    ctx.font = `${size}px ${FONT}`;
    ctx.fillText(t, x, y);
  });
};
const peakLabelPlugin = {
  id: "peakLabel",
  afterDraw(chart: any) {
    const { ctx } = chart;
    ctx.save();
    ctx.fillStyle = "#000";
    ctx.textAlign = "left";
    ctx.textBaseline = "alphabetic";
    sub(ctx, [["f", 324, 802, 37], ["0", 336, 813, 29]]);
    ctx.restore();
  },
};
const insetLabelPlugin = {
  id: "insetLabel",
  afterDraw(chart: any) {
    const { ctx } = chart;
    ctx.save();
    ctx.fillStyle = "#000";
    ctx.textAlign = "left";
    ctx.textBaseline = "alphabetic";
    sub(ctx, [["f", 702, 827, 28], ["0", 710, 835, 22], ["-", 722, 827, 28], ["f", 731, 827, 28], ["BL", 739, 835, 22], ["?", 767, 827, 28]]);
    ctx.restore();
  },
};

const fix1 = (v: number) => v.toFixed(1);
const fix2 = (v: number) => v.toFixed(2);
const fix3 = (v: number) => v.toFixed(3);

export default function App() {
  const r1 = useRef<HTMLCanvasElement>(null);
  const r2 = useRef<HTMLCanvasElement>(null);
  const r3 = useRef<HTMLCanvasElement>(null);
  const r4 = useRef<HTMLCanvasElement>(null);

  useEffect(() => {
    const top = new Chart(r1.current as any, {
      type: "scatter",
      data: {
        datasets: [
          dots("Blue", [...run(blueRunA.jd, blueRunA.mags), ...run(blueRunB.jd, blueRunB.mags), ...run(blueRunC.jd, blueRunC.mags), ...run(blueRunD.jd, blueRunD.mags), ...run(blueRunE.jd, blueRunE.mags), ...run(blueRunF.jd, blueRunF.mags), ...run(blueRunG.jd, blueRunG.mags)], BLUE, 4.9),
          dots("Green", run(greenRunJd, greenRunMags), GREEN, 4.9),
          dots("Red", run(redRunJd, redRunMags), RED, 4.6),
          dots("Purple", run(purpleRunJd, purpleRunMags), PURPLE, 5),
          crosses("ASAS-SN - 13.4", xy([...asasSeason1, ...asasSeason2, ...asasSeason3])),
        ] as any,
      },
      options: {
        ...base,
        plugins: noChrome,
        ...axes(
          { left: 112, right: 1092, top: 79, bottom: 280.5 },
          { min: -200, max: 1600, ticks: jdTicks, fmt: (v) => String(v), title: "JD-2456210", height: 84.3, pad: 11 },
          { min: 1.2, max: 3.0, ticks: magTicks, fmt: fix1, reverse: true, width: 100, pad: 14 },
        ),
      } as any,
      plugins: [framePlugin(10, 2), legendPlugin, runsTextPlugin],
    });

    const mid = new Chart(r2.current as any, {
      type: "scatter",
      data: {
        datasets: [
          dots("Blue", twoCycles(blueFolded), BLUE, 3.1),
          dots("Green", twoCycles(xy(greenFolded)), GREEN, 2.7),
          dots("Red", twoCycles(xy(redFolded)), RED, 2.7),
          dots("Purple", twoCycles(xy(purpleFolded)), PURPLE, 2.7),
          crosses("ASAS-SN", twoCycles(xy(asasFolded))),
        ] as any,
      },
      options: {
        ...base,
        plugins: noChrome,
        ...axes(
          { left: 112, right: 1092, top: 392, bottom: 655 },
          { min: -0.5, max: 1.5, ticks: phaseTicks, fmt: fix1, title: "Pulsation phase", height: 83, pad: 11 },
          { min: 1.2, max: 3.0, ticks: magTicks, fmt: fix1, reverse: true, width: 100, pad: 14 },
        ),
      } as any,
      plugins: [framePlugin(10, 2)],
    });

    const spec = new Chart(r3.current as any, {
      type: "line",
      data: {
        datasets: [
          curve("Prewhitened", spectrumOrange.map((a, i) => ({ x: i * SPECTRUM_ORANGE_STEP, y: a })), ORANGE, "origin"),
          curve("Residual", spectrumRed.map((a, i) => ({ x: i * SPECTRUM_RED_STEP, y: a })), CROSS, "origin"),
          curve("Spectrum", xy(spectrumBlueAll), BLUE, { target: 3 }),
          { label: "Spectrum floor", data: xy(spectrumBlueFloor), borderWidth: 0, borderColor: "transparent", backgroundColor: "transparent", fill: false, pointRadius: 0, tension: 0 },
        ] as any,
      },
      options: {
        ...base,
        plugins: noChrome,
        ...axes(
          { left: 127, right: 1092, top: 767, bottom: 1029.5 },
          { min: 0, max: 10, ticks: freqTicks, fmt: fix1, title: "Frequency [c/d]", height: 82.3, pad: 11 },
          { min: 0, max: 0.2, ticks: ampTicks, fmt: fix2, title: "Amplitude [mag]", width: 122, pad: 14 },
        ),
      } as any,
      plugins: [framePlugin(10, 2), peakLabelPlugin],
    });

    const inset = new Chart(r4.current as any, {
      type: "line",
      data: {
        datasets: [
          curve("Marker", [{ x: F0_MINUS_FBL, y: 0 }, { x: F0_MINUS_FBL, y: 0.03 }], "#000", false, 1.5),
          curve("Residual", xy(insetOrange), ORANGE, false),
          curve("Spectrum", xy(insetRed), CROSS, false),
        ] as any,
      },
      options: {
        ...base,
        plugins: noChrome,
        ...axes(
          { left: 691.5, right: 1058.5, top: 800, bottom: 900.5 },
          { min: 1.96, max: 1.97, ticks: insetFreqTicks, fmt: fix3, height: 60, pad: 11 },
          { min: 0, max: 0.03, ticks: insetAmpTicks, fmt: fix2, width: 100, pad: 14 },
        ),
      } as any,
      plugins: [framePlugin(8, 2), insetLabelPlugin],
    });

    return () => { top.destroy(); mid.destroy(); spec.destroy(); inset.destroy(); };
  }, []);

  const style: React.CSSProperties = { position: "absolute", left: 0, top: 0, width: 1128, height: 1112 };
  return (
    <div style={{ position: "absolute", left: 0, top: 0, width: 1128, height: 1112, background: "#fff", overflow: "hidden" }}>
      <canvas ref={r1} width={1128} height={1112} style={style} />
      <canvas ref={r2} width={1128} height={1112} style={style} />
      <canvas ref={r3} width={1128} height={1112} style={style} />
      <canvas ref={r4} width={1128} height={1112} style={style} />
    </div>
  );
}
